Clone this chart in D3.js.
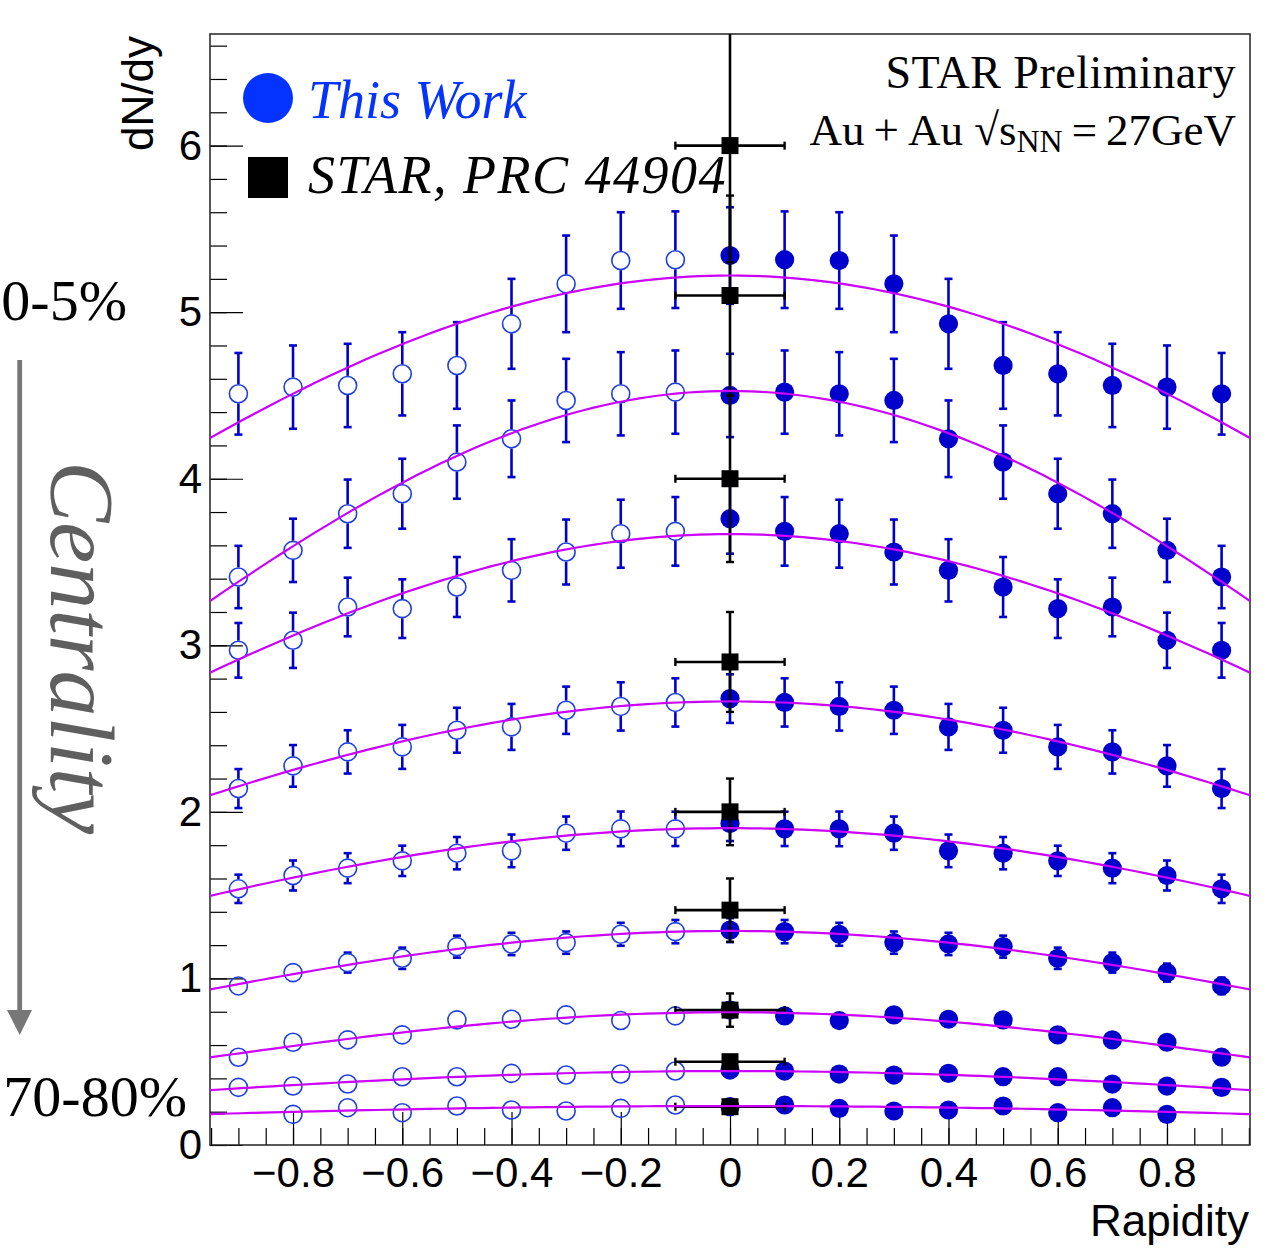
<!DOCTYPE html>
<html>
<head>
<meta charset="utf-8">
<script src="https://cdn.jsdelivr.net/npm/d3@7"></script>
<style>
  html, body { margin: 0; padding: 0; background: #ffffff; }
  svg { display: block; }
</style>
</head>
<body>
<svg id="chart" width="1280" height="1254"></svg>
<script>
// ---- data -------------------------------------------------------------
// forward-rapidity bins; the backward hemisphere is drawn as the reflection
const rapidityBins = [0.0, 0.1, 0.2, 0.3, 0.4, 0.5, 0.6, 0.7, 0.8, 0.9];
const centralityClasses = ["0-5%", "5-10%", "10-20%", "20-30%", "30-40%", "40-50%", "50-60%", "60-70%", "70-80%"];

const yield_0_5   = [5.34, 5.315, 5.31, 5.17, 4.93, 4.68, 4.63, 4.56, 4.55, 4.51];
const err_0_5     = [0.29, 0.29, 0.29, 0.29, 0.27, 0.26, 0.25, 0.25, 0.25, 0.245];
const yield_5_10  = [4.50, 4.52, 4.51, 4.47, 4.24, 4.10, 3.91, 3.79, 3.57, 3.41];
const err_5_10    = [0.25, 0.25, 0.25, 0.25, 0.23, 0.22, 0.21, 0.205, 0.19, 0.187];
const yield_10_20 = [3.76, 3.684, 3.67, 3.56, 3.45, 3.35, 3.22, 3.23, 3.03, 2.97];
const err_10_20   = [0.21, 0.206, 0.204, 0.195, 0.187, 0.18, 0.176, 0.176, 0.166, 0.164];
const yield_20_30 = [2.68, 2.657, 2.633, 2.61, 2.51, 2.49, 2.39, 2.36, 2.276, 2.14];
const err_20_30   = [0.146, 0.145, 0.145, 0.142, 0.138, 0.135, 0.132, 0.13, 0.125, 0.117];
const yield_30_40 = [1.93, 1.898, 1.898, 1.872, 1.766, 1.752, 1.706, 1.662, 1.618, 1.538];
const err_30_40   = [0.105, 0.103, 0.104, 0.10, 0.098, 0.097, 0.091, 0.09, 0.09, 0.085];
const yield_40_50 = [1.29, 1.281, 1.265, 1.215, 1.207, 1.191, 1.121, 1.095, 1.035, 0.955];
const err_40_50   = [0.072, 0.07, 0.069, 0.067, 0.067, 0.066, 0.064, 0.06, 0.054, 0.05];
const yield_50_60 = [0.81, 0.775, 0.747, 0.781, 0.755, 0.751, 0.661, 0.631, 0.617, 0.527];
const err_50_60   = [0.045, 0.044, 0.043, 0.043, 0.042, 0.042, 0.04, 0.038, 0.037, 0.034];
const yield_60_70 = [0.45, 0.444, 0.426, 0.42, 0.43, 0.41, 0.41, 0.366, 0.354, 0.346];
const err_60_70   = [0.03, 0.03, 0.03, 0.03, 0.03, 0.028, 0.028, 0.026, 0.026, 0.025];
const yield_70_80 = [0.23, 0.24, 0.22, 0.204, 0.21, 0.234, 0.194, 0.224, 0.184, null];
const err_70_80   = [0.02, 0.02, 0.02, 0.02, 0.02, 0.02, 0.018, 0.018, 0.018, null];

// Gaussian fit parameters per centrality class: A * exp(-y^2 / (2 sigma^2))
const fitAmplitude = [5.22, 4.527, 3.668, 2.663, 1.902, 1.285, 0.797, 0.444, 0.234];
const fitSigma     = [1.48, 1.178, 1.327, 1.381, 1.373, 1.191, 1.044, 1.232, 1.40];

// STAR, PRC 44904 (mid-rapidity)
const starYield = [6.0, 5.1, 4.0, 2.9, 2.0, 1.41, 0.81, 0.50, 0.23];
const starErr   = [0.7, 0.6, 0.5, 0.3, 0.2, 0.19, 0.10, 0.04, 0.03];
const starHalfWidth = 0.1;

// axis tick labels
const xMajorTicks = [-0.8, -0.6, -0.4, -0.2, 0, 0.2, 0.4, 0.6, 0.8];
const yMajorTicks = [0, 1, 2, 3, 4, 5, 6];

const yieldSeries = [yield_0_5, yield_5_10, yield_10_20, yield_20_30, yield_30_40,
                     yield_40_50, yield_50_60, yield_60_70, yield_70_80];
const errSeries   = [err_0_5, err_5_10, err_10_20, err_20_30, err_30_40,
                     err_40_50, err_50_60, err_60_70, err_70_80];

// ---- layout ------------------------------------------------------------
const frame = { left: 210, right: 1250, top: 34, bottom: 1145 };
const xDomain = [-0.952, 0.952];
const yDomain = [0, 6.67];

const svg = d3.select("#chart");
const x = d3.scaleLinear().domain(xDomain).range([frame.left, frame.right]);
const y = d3.scaleLinear().domain(yDomain).range([frame.bottom, frame.top]);

const SANS = "'Liberation Sans', Arial, Helvetica, sans-serif";
const SERIF = "'Liberation Serif', 'Times New Roman', serif";

const blueMark = "#0000cc";
const blueOpen = "#1f3fe0";
const fitColor = "#cc00ff";

svg.append("defs").append("clipPath").attr("id", "frameClip")
  .append("rect")
  .attr("x", frame.left).attr("y", frame.top)
  .attr("width", frame.right - frame.left).attr("height", frame.bottom - frame.top);

// ---- axes (ticks point inward, ROOT style) ----------------------------
const axisStyle = g => {
  g.select(".domain").remove();
  g.selectAll(".tick line").attr("stroke", "#000").attr("stroke-width", 1.2);
  g.selectAll(".tick text").attr("font-family", SANS).attr("font-size", 42).attr("fill", "#000");
};

const xMinor = d3.range(-0.95, 0.951, 0.05).filter(v => v >= xDomain[0] && v <= xDomain[1]);
svg.append("g").attr("transform", `translate(0,${frame.bottom})`)
  .call(d3.axisBottom(x).tickValues(xMinor).tickSize(-17).tickFormat(""))
  .call(axisStyle);
svg.append("g").attr("transform", `translate(0,${frame.bottom})`)
  .call(d3.axisBottom(x).tickValues(xMajorTicks).tickSize(-33).tickPadding(12)
        .tickFormat(d => d === 0 ? "0" : d3.format(".1f")(d)))
  .call(axisStyle);

const yMinor = d3.range(0, 6.61, 0.2);
svg.append("g").attr("transform", `translate(${frame.left},0)`)
  .call(d3.axisLeft(y).tickValues(yMinor).tickSize(-17).tickFormat(""))
  .call(axisStyle);
svg.append("g").attr("transform", `translate(${frame.left},0)`)
  .call(d3.axisLeft(y).tickValues(yMajorTicks).tickSize(-33).tickPadding(8)
        .tickFormat(d3.format("d")))
  .call(axisStyle);

svg.append("rect")
  .attr("x", frame.left).attr("y", frame.top)
  .attr("width", frame.right - frame.left).attr("height", frame.bottom - frame.top)
  .attr("fill", "none").attr("stroke", "#222").attr("stroke-width", 1.5);

// axis titles
svg.append("text")
  .attr("x", 1249).attr("y", 1236)
  .attr("text-anchor", "end")
  .attr("font-family", SANS).attr("font-size", 44)
  .text("Rapidity");
svg.append("text")
  .attr("transform", "translate(153,36) rotate(-90)")
  .attr("text-anchor", "end")
  .attr("font-family", SANS).attr("font-size", 44)
  .text("dN/dy");

// ---- plot area ----------------------------------------------------------
const plot = svg.append("g").attr("clip-path", "url(#frameClip)");

const MARKER_R = 9.6;
const CAP = 4;

function errorBar(g, cx, cy, ePx, r, color, width) {
  if (ePx <= r) return;
  const segs = [[cy - ePx, cy - r], [cy + r, cy + ePx]];
  segs.forEach(([a, b]) => {
    g.append("line").attr("x1", cx).attr("x2", cx).attr("y1", a).attr("y2", b)
      .attr("stroke", color).attr("stroke-width", width);
  });
  [cy - ePx, cy + ePx].forEach(yy => {
    g.append("line").attr("x1", cx - CAP).attr("x2", cx + CAP).attr("y1", yy).attr("y2", yy)
      .attr("stroke", color).attr("stroke-width", width);
  });
}

// measured points: filled at y >= 0, open (reflected) at y < 0
const dataLayer = plot.append("g");
yieldSeries.forEach((vals, s) => {
  const errs = errSeries[s];
  rapidityBins.forEach((ry, i) => {
    const v = vals[i];
    if (v == null) return;
    const ePx = y(0) - y(errs[i]);
    // filled marker
    const cxF = x(ry), cy = y(v);
    errorBar(dataLayer, cxF, cy, ePx, 0, blueMark, 2.6);
    dataLayer.append("circle").attr("cx", cxF).attr("cy", cy).attr("r", MARKER_R)
      .attr("fill", blueMark);
    // reflected open marker
    if (ry > 0) {
      const cxO = x(-ry);
      errorBar(dataLayer, cxO, cy, ePx, MARKER_R, blueMark, 2.6);
      dataLayer.append("circle").attr("cx", cxO).attr("cy", cy).attr("r", MARKER_R - 0.6)
        .attr("fill", "none").attr("stroke", blueOpen).attr("stroke-width", 1.6);
    }
  });
});

// STAR published points at mid-rapidity
const starLayer = plot.append("g");
starYield.forEach((v, i) => {
  const cx = x(0), cy = y(v);
  const xl = x(-starHalfWidth), xr = x(starHalfWidth);
  const yt = y(v + starErr[i]), yb = y(v - starErr[i]);
  starLayer.append("line").attr("x1", xl).attr("x2", xr).attr("y1", cy).attr("y2", cy)
    .attr("stroke", "#000").attr("stroke-width", 2.6);
  [xl, xr].forEach(xx => starLayer.append("line")
    .attr("x1", xx).attr("x2", xx).attr("y1", cy - CAP).attr("y2", cy + CAP)
    .attr("stroke", "#000").attr("stroke-width", 2.4));
  starLayer.append("line").attr("x1", cx).attr("x2", cx).attr("y1", yt).attr("y2", yb)
    .attr("stroke", "#000").attr("stroke-width", 2.6);
  [yt, yb].forEach(yy => starLayer.append("line")
    .attr("x1", cx - CAP).attr("x2", cx + CAP).attr("y1", yy).attr("y2", yy)
    .attr("stroke", "#000").attr("stroke-width", 2.4));
  starLayer.append("rect").attr("x", cx - 8.5).attr("y", cy - 8.5)
    .attr("width", 17).attr("height", 17).attr("fill", "#000");
});

// Gaussian fits
const fitX = d3.range(0, 101).map(k => xDomain[0] + k * (xDomain[1] - xDomain[0]) / 100);
const fitLine = d3.line().x(d => x(d[0])).y(d => y(d[1]));
fitAmplitude.forEach((A, s) => {
  const sig = fitSigma[s];
  const pts = fitX.map(xx => [xx, A * Math.exp(-xx * xx / (2 * sig * sig))]);
  plot.append("path").attr("d", fitLine(pts))
    .attr("fill", "none").attr("stroke", fitColor).attr("stroke-width", 2.2);
});

// ---- legend & annotations ---------------------------------------------
svg.append("circle").attr("cx", 268).attr("cy", 98).attr("r", 25).attr("fill", "#0433ff");
svg.append("text").attr("x", 308).attr("y", 118)
  .attr("font-family", SERIF).attr("font-style", "italic").attr("font-size", 54)
  .attr("fill", "#0433ff").text("This Work");
svg.append("rect").attr("x", 248).attr("y", 157).attr("width", 40).attr("height", 41).attr("fill", "#000");
svg.append("text").attr("x", 308).attr("y", 193)
  .attr("font-family", SERIF).attr("font-style", "italic").attr("font-size", 54)
  .attr("letter-spacing", 1.5)
  .attr("fill", "#000").text("STAR, PRC 44904");

svg.append("text").attr("x", 1236).attr("y", 88).attr("text-anchor", "end")
  .attr("font-family", SERIF).attr("font-size", 46).attr("letter-spacing", 0.5)
  .text("STAR Preliminary");
const energy = svg.append("text").attr("x", 1236).attr("y", 145).attr("text-anchor", "end")
  .attr("font-family", SERIF).attr("font-size", 45);
energy.append("tspan").text("Au\u2009+\u2009Au \u221As");
energy.append("tspan").attr("font-size", 32).attr("dy", 7).text("NN");
energy.append("tspan").attr("dy", -7).text("\u2009=\u200927GeV");

// centrality labels and arrow
svg.append("text").attr("x", 127).attr("y", 320).attr("text-anchor", "end")
  .attr("font-family", SERIF).attr("font-size", 58)
  .text(centralityClasses[0]);
svg.append("text").attr("x", 187).attr("y", 1116).attr("text-anchor", "end")
  .attr("font-family", SERIF).attr("font-size", 58)
  .text(centralityClasses[centralityClasses.length - 1]);

svg.append("line").attr("x1", 19.7).attr("x2", 19.7).attr("y1", 360).attr("y2", 1012)
  .attr("stroke", "#777").attr("stroke-width", 4.8);
svg.append("path").attr("d", "M7,1010 L32,1010 L19.7,1035 Z").attr("fill", "#777");
svg.append("text").attr("transform", "translate(51,461) rotate(90)")
  .attr("font-family", SERIF).attr("font-style", "italic").attr("font-size", 92)
  .attr("fill", "#5f5f5f").text("Centrality");
</script>
</body>
</html>
